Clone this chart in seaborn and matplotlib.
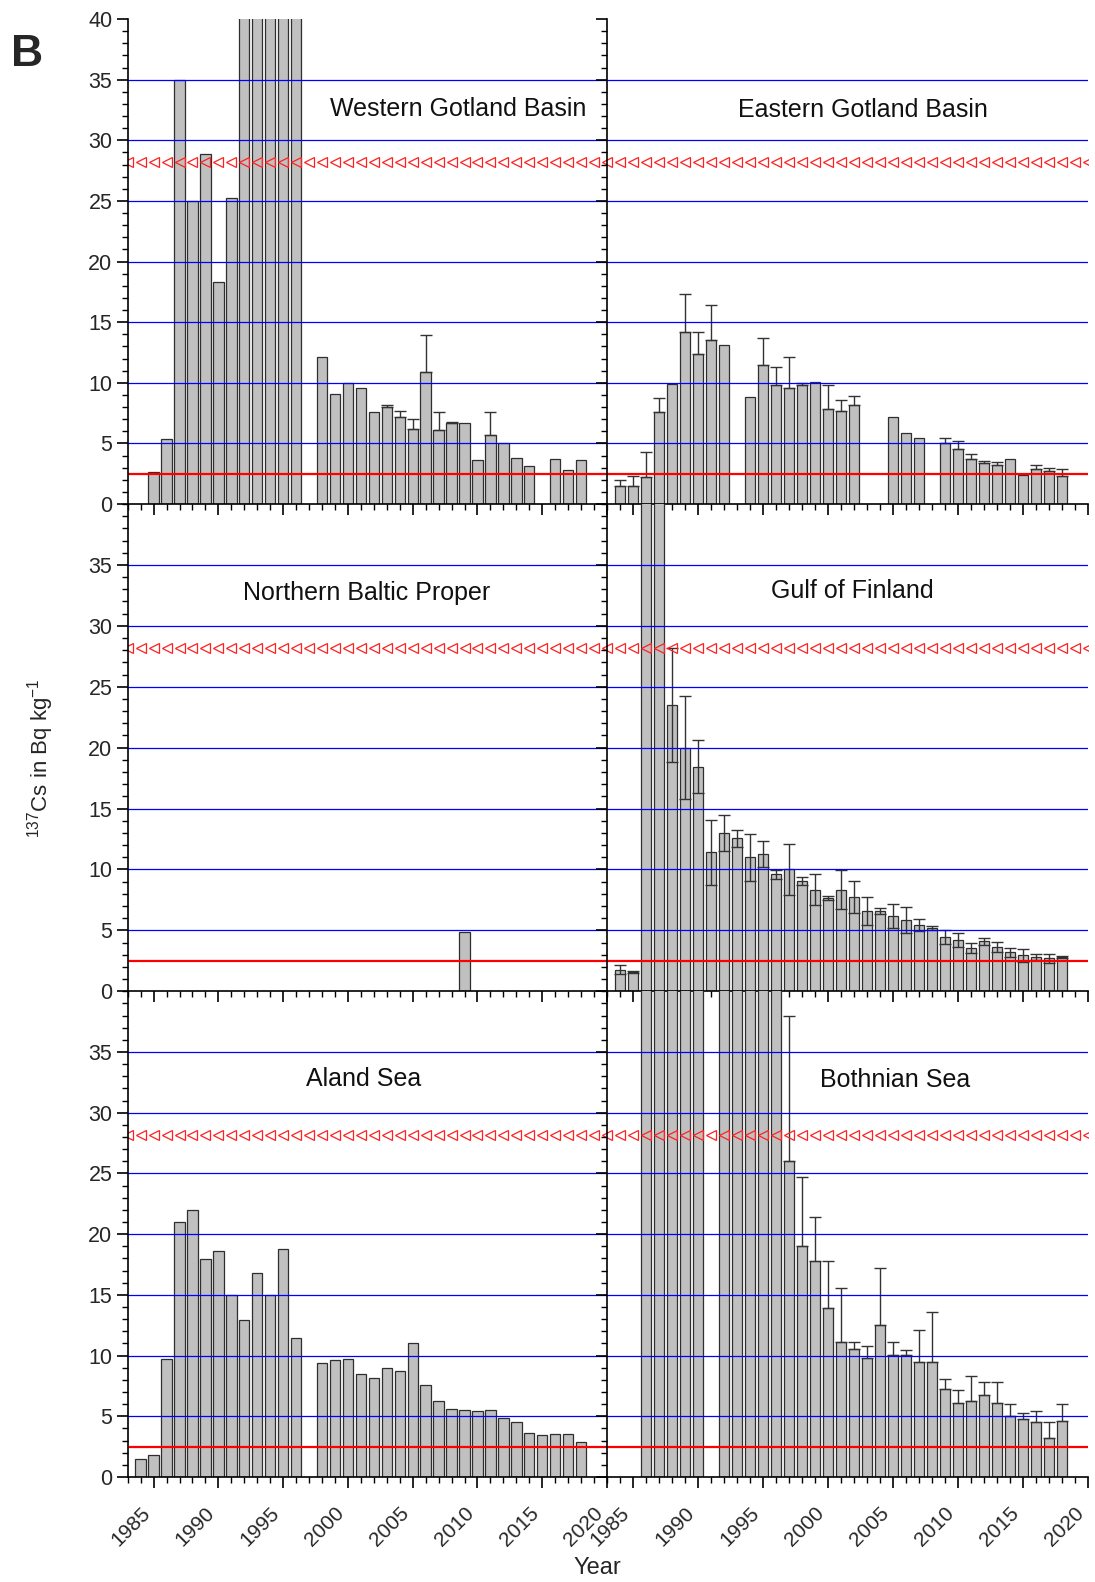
import numpy as np
import pandas as pd
import matplotlib
matplotlib.use("Agg")
import matplotlib.pyplot as plt
import seaborn as sns
from matplotlib.ticker import MultipleLocator, FixedLocator

# ---------------- data ----------------
wgb_years = [1985, 1986, 1987, 1988, 1989, 1990, 1991, 1992, 1993, 1994, 1995, 1996,
             1998, 1999, 2000, 2001, 2002, 2003, 2004, 2005, 2006, 2007, 2008, 2009,
             2010, 2011, 2012, 2013, 2014, 2016, 2017, 2018]
wgb_vals = [2.6, 5.4, 35.0, 25.0, 28.9, 18.3, 25.2, 48.0, 55.0, 60.0, 52.0, 45.0,
            12.1, 9.1, 10.0, 9.6, 7.6, 8.0, 7.2, 6.2, 10.9, 6.1, 6.7, 6.7,
            3.6, 5.7, 5.0, 3.8, 3.1, 3.7, 2.8, 3.6]
wgb_err = [0, 0, 0, 0, 0, 0, 0, 0, 0, 0, 0, 0,
           0, 0, 0, 0, 0, 0.15, 0.5, 0.8, 3.0, 1.5, 0.1, 0,
           0, 1.85, 0, 0, 0, 0, 0, 0]

egb_years = [1984, 1985, 1986, 1987, 1988, 1989, 1990, 1991, 1992,
             1994, 1995, 1996, 1997, 1998, 1999, 2000, 2001, 2002,
             2005, 2006, 2007,
             2009, 2010, 2011, 2012, 2013, 2014, 2015, 2016, 2017, 2018]
egb_vals = [1.5, 1.45, 2.25, 7.55, 9.9, 14.2, 12.4, 13.55, 13.15,
            8.85, 11.45, 9.8, 9.6, 9.8, 10.1, 7.8, 7.7, 8.15,
            7.2, 5.85, 5.45,
            5.05, 4.5, 3.7, 3.35, 3.2, 3.75, 2.4, 2.85, 2.75, 2.35]
egb_err = [0.5, 0.9, 2.05, 1.2, 0, 3.1, 1.75, 2.9, 0,
           0, 2.25, 1.5, 2.5, 0.2, 0, 2.05, 0.9, 0.75,
           0, 0, 0,
           0.4, 0.7, 0.4, 0.2, 0.3, 0, 0, 0.35, 0.2, 0.5]

nbp_years = [2009]
nbp_vals = [4.9]
nbp_err = [0]

gof_years = [1984, 1985, 1986, 1987, 1988, 1989, 1990, 1991, 1992, 1993, 1994, 1995,
             1996, 1997, 1998, 1999, 2000, 2001, 2002, 2003, 2004, 2005, 2006, 2007,
             2008, 2009, 2010, 2011, 2012, 2013, 2014, 2015, 2016, 2017, 2018]
gof_vals = [1.77, 1.58, 70.0, 60.0, 23.5, 20.0, 18.45, 11.4, 13.0, 12.55, 11.0, 11.25,
            9.6, 10.0, 9.05, 8.35, 7.65, 8.35, 7.75, 6.6, 6.6, 6.2, 5.85, 5.45,
            5.2, 4.45, 4.2, 3.55, 4.1, 3.65, 3.2, 2.95, 2.8, 2.7, 2.8]
gof_err = [0.35, 0.05, 0, 0, 4.7, 4.2, 2.2, 2.7, 1.45, 0.7, 1.95, 1.07,
           0.38, 2.1, 0.36, 1.26, 0.15, 1.6, 1.34, 1.14, 0.25, 1.0, 1.1, 0.47,
           0.16, 0.6, 0.55, 0.44, 0.3, 0.41, 0.36, 0.55, 0.25, 0.36, 0.1]

ala_years = [1984, 1985, 1986, 1987, 1988, 1989, 1990, 1991, 1992, 1993, 1994, 1995, 1996,
             1998, 1999, 2000, 2001, 2002, 2003, 2004, 2005, 2006, 2007, 2008, 2009,
             2010, 2011, 2012, 2013, 2014, 2015, 2016, 2017, 2018]
ala_vals = [1.45, 1.85, 9.75, 21.0, 22.0, 17.95, 18.65, 15.0, 12.95, 16.8, 15.0, 18.75, 11.45,
            9.35, 9.6, 9.7, 8.45, 8.15, 8.95, 8.7, 11.0, 7.55, 6.25, 5.6, 5.5,
            5.45, 5.5, 4.9, 4.55, 3.65, 3.5, 3.55, 3.55, 2.9]
ala_err = [0] * len(ala_years)

bos_years = [1986, 1987, 1988, 1989, 1990,
             1992, 1993, 1994, 1995, 1996, 1997, 1998, 1999, 2000, 2001, 2002, 2003,
             2004, 2005, 2006, 2007, 2008, 2009, 2010, 2011, 2012, 2013, 2014, 2015,
             2016, 2017, 2018]
bos_vals = [85.0, 70.0, 60.0, 55.0, 50.0,
            52.0, 48.0, 45.0, 44.0, 42.0, 26.0, 19.0, 17.8, 13.9, 11.15, 10.55, 9.8,
            12.5, 10.05, 10.05, 9.5, 9.5, 7.25, 6.1, 6.3, 6.75, 6.1, 5.05, 4.75,
            4.55, 3.25, 4.65]
bos_err = [0, 0, 0, 0, 0,
           0, 0, 0, 0, 0, 12.0, 5.7, 3.6, 3.85, 4.45, 0.55, 0.95,
           4.7, 1.05, 0.4, 2.6, 4.1, 0.8, 1.05, 2.05, 1.05, 1.7, 1.0, 0.5,
           0.85, 1.3, 1.4]

limit_low = 2.5
limit_high = 28.2
marker_years = [1983, 1984, 1985, 1986, 1987, 1988, 1989, 1990, 1991, 1992, 1993, 1994,
                1995, 1996, 1997, 1998, 1999, 2000, 2001, 2002, 2003, 2004, 2005, 2006,
                2007, 2008, 2009, 2010, 2011, 2012, 2013, 2014, 2015, 2016, 2017, 2018,
                2019, 2020]
grid_levels = [5, 10, 15, 20, 25, 30, 35]

# ---------------- style ----------------
sns.set_style("ticks")
plt.rcParams["font.family"] = ["Liberation Sans", "DejaVu Sans"]
plt.rcParams["mathtext.fontset"] = "custom"
plt.rcParams["mathtext.rm"] = "Liberation Sans"
plt.rcParams["mathtext.it"] = "Liberation Sans:italic"

BAR = "#c0c0c0"
EDGE = "#2e2e2e"

fig = plt.figure(figsize=(10.95, 15.82), dpi=100)
fig.patch.set_facecolor("white")

W, H = 1095.0, 1582.0
xl0, xr0, xr1 = 127.7, 607.0, 1088.0
rows = [(19.0, 504.0), (504.0, 991.3), (991.3, 1477.0)]


def add_panel(col, row, years, vals, errs, title, tx, ty, symmetric):
    x0 = xl0 if col == 0 else xr0
    x1 = xr0 if col == 0 else xr1
    ytop, ybot = rows[row]
    ax = fig.add_axes([x0 / W, 1 - ybot / H, (x1 - x0) / W, (ybot - ytop) / H])
    ax.set_facecolor("none")
    df = pd.DataFrame({"Year": years, "Cs": vals})
    sns.barplot(data=df, x="Year", y="Cs", native_scale=True, color=BAR,
                saturation=1, edgecolor=EDGE, linewidth=0.9, errorbar=None,
                width=0.8, ax=ax, zorder=2)
    yrs = np.array(years, dtype=float)
    v = np.array(vals, dtype=float)
    e = np.array(errs, dtype=float)
    m = e > 0
    if m.any():
        if symmetric:
            yerr = e[m]
        else:
            yerr = [np.zeros(m.sum()), e[m]]
        ax.errorbar(yrs[m], v[m], yerr=yerr, fmt="none", ecolor="#333333",
                    elinewidth=1.0, capsize=4, capthick=1.0, zorder=3)
    for g in grid_levels:
        ax.axhline(g, color="#0000ff", lw=0.9, zorder=4)
    ax.axhline(limit_low, color="#ff0000", lw=1.6, zorder=5)
    ax.plot(marker_years, [limit_high] * len(marker_years), ls="none", marker="<",
            ms=7, mfc="none", mec="#ff2020", mew=0.9, zorder=5)
    ax.text(tx, ty, title, transform=ax.transAxes, ha="center", va="center",
            fontsize=18, color="#111111")

    ax.set_xlim(1983, 2020)
    ax.set_ylim(0, 40)
    ax.set_xlabel("")
    ax.set_ylabel("")
    ax.xaxis.set_major_locator(MultipleLocator(5))
    ax.xaxis.set_minor_locator(MultipleLocator(1))
    if row == 0:
        ax.yaxis.set_major_locator(FixedLocator([0, 5, 10, 15, 20, 25, 30, 35, 40]))
    else:
        ax.yaxis.set_major_locator(FixedLocator([0, 5, 10, 15, 20, 25, 30, 35]))
    ax.yaxis.set_minor_locator(MultipleLocator(1))
    for s in ["top", "right"]:
        ax.spines[s].set_visible(False)
    for s in ["left", "bottom"]:
        ax.spines[s].set_color("black")
        ax.spines[s].set_linewidth(1.2)
        ax.spines[s].set_zorder(6)
    ax.tick_params(which="major", direction="out", length=8, width=1.2,
                   color="black", labelsize=15.5, pad=3)
    ax.tick_params(which="minor", direction="out", length=4.5, width=1.0,
                   color="black")
    ax.tick_params(axis="y", labelleft=(col == 0))
    if row == 2:
        ax.tick_params(axis="x", labelbottom=True, labelsize=15, pad=11)
        ax.set_xticks(ax.get_xticks())
        ax.set_xticklabels([str(int(t)) for t in ax.get_xticks()])
        ax.set_xlim(1983, 2020)
        for lab in ax.get_xticklabels():
            lab.set_rotation(45)
            lab.set_ha("right")
            lab.set_va("top")
    else:
        ax.tick_params(axis="x", labelbottom=False)
    return ax


add_panel(0, 0, wgb_years, wgb_vals, wgb_err, "Western Gotland Basin", 0.689, 0.814, False)
add_panel(1, 0, egb_years, egb_vals, egb_err, "Eastern Gotland Basin", 0.532, 0.812, False)
add_panel(0, 1, nbp_years, nbp_vals, nbp_err, "Northern Baltic Proper", 0.499, 0.817, False)
add_panel(1, 1, gof_years, gof_vals, gof_err, "Gulf of Finland", 0.510, 0.822, True)
add_panel(0, 2, ala_years, ala_vals, ala_err, "Aland Sea", 0.492, 0.819, False)
add_panel(1, 2, bos_years, bos_vals, bos_err, "Bothnian Sea", 0.599, 0.817, False)

fig.text(11 / W, 1 - 55 / H, "B", fontsize=32, fontweight="bold", ha="left", va="center")
fig.text(41 / W, 1 - 758 / H, r"$\mathregular{^{137}}$Cs in Bq kg$\mathregular{^{-1}}$",
         rotation=90, ha="center", va="center", fontsize=16)
fig.text(597 / W, 1 - 1568 / H, "Year", fontsize=17, ha="center", va="center")

fig.savefig("out.png", dpi=100)
